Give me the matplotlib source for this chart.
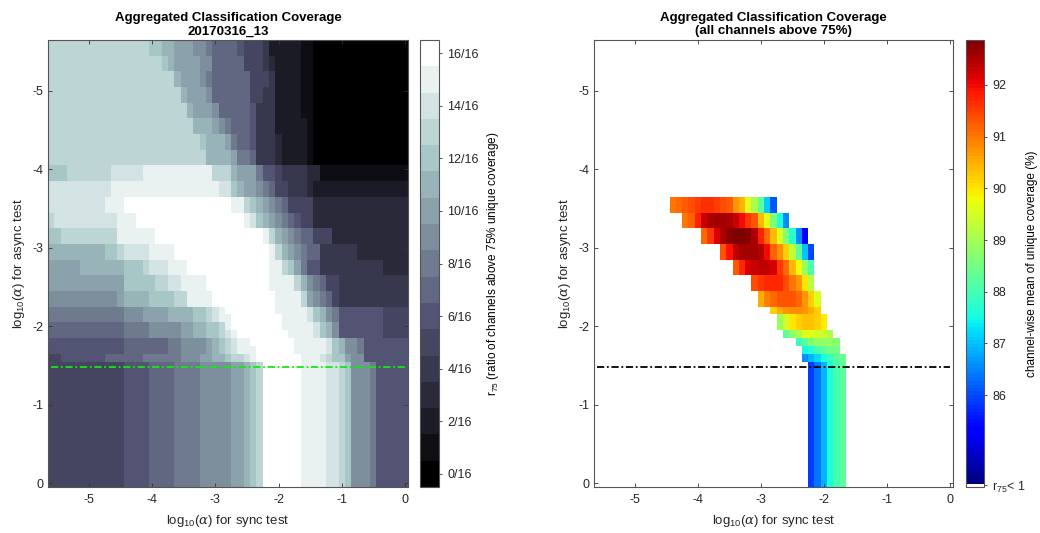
import numpy as np
import matplotlib.pyplot as plt
from matplotlib.colors import ListedColormap

plt.rcParams['font.family'] = ['Liberation Sans', 'DejaVu Sans']
plt.rcParams['axes.unicode_minus'] = False
plt.rcParams['mathtext.fontset'] = 'custom'
plt.rcParams['mathtext.rm'] = 'Liberation Sans'
plt.rcParams['mathtext.it'] = 'DejaVu Serif:italic'

# log10(alpha) grid used for both the sync and the async test
grid = np.round(np.arange(-5.6, 0.05, 0.1), 1)

# number of channels (of 16) above 75% unique coverage
# (first async, last async, "level:count ..." along the sync axis)
r75_rows = [
    (-5.6, -5.5, "13:16 12:2 11:2 10:3 9:2 8:1 7:4 6:1 5:3 4:1 2:5 1:2 0:15"),
    (-5.4, -5.3, "13:18 12:1 11:1 10:4 9:2 7:5 5:3 4:1 3:1 2:4 1:2 0:15"),
    (-5.2, -5.1, "13:20 11:1 10:3 9:1 8:1 7:6 5:3 4:1 2:4 1:2 0:15"),
    (-5.0, -4.9, "13:21 11:1 10:3 9:1 7:6 5:2 4:2 2:4 1:2 0:15"),
    (-4.8, -4.7, "13:22 11:1 10:3 9:1 7:5 6:1 4:3 2:4 1:2 0:15"),
    (-4.6, -4.5, "13:23 11:3 10:1 9:1 8:1 7:3 6:1 4:3 2:5 1:1 0:15"),
    (-4.4, -4.3, "13:24 12:1 11:3 10:1 8:1 7:2 6:1 4:3 3:1 2:4 1:1 0:15"),
    (-4.2, -4.1, "13:25 11:4 10:1 8:2 7:1 4:3 3:1 2:4 1:1 0:15"),
    (-4.0, -3.9, "12:3 13:7 14:5 15:11 13:3 11:1 10:3 8:1 6:2 5:1 4:4 3:2 1:14"),
    (-3.8, -3.7, "14:10 15:17 14:2 12:1 11:1 10:2 9:1 8:1 7:1 5:2 4:3 3:1 2:15"),
    (-3.6, -3.5, "14:9 15:3 16:17 15:2 13:1 12:1 11:1 10:1 9:1 8:1 7:1 5:4 3:15"),
    (-3.4, -3.3, "13:1 14:10 15:3 16:17 15:1 14:1 12:1 11:1 10:1 9:1 8:1 7:1 6:1 5:2 3:15"),
    (-3.2, -3.1, "12:2 13:9 15:6 16:17 15:1 13:1 11:1 10:1 9:1 8:1 7:2 5:3 3:12"),
    (-3.0, -2.9, "11:9 12:2 13:1 14:4 15:4 16:15 15:1 13:1 11:1 10:1 9:1 8:1 7:2 4:6 3:8"),
    (-2.8, -2.7, "10:5 11:7 12:3 13:1 14:3 15:3 16:13 15:2 13:1 12:1 10:1 8:1 6:2 4:10 3:4"),
    (-2.6, -2.5, "10:12 12:5 13:2 14:2 15:4 16:10 15:4 13:1 11:1 9:1 8:1 7:1 5:2 4:11"),
    (-2.4, -2.3, "9:11 10:1 11:4 12:4 13:2 15:4 16:10 15:4 13:1 10:1 9:1 8:1 7:1 5:1 4:11"),
    (-2.2, -2.2, "8:12 9:3 10:4 11:4 12:2 13:1 14:1 15:1 16:8 15:5 14:1 12:1 11:1 9:1 8:1 6:7 5:4"),
    (-2.1, -2.1, "8:12 9:3 10:4 11:4 12:2 13:1 14:1 15:2 16:8 15:4 14:1 12:1 11:1 9:1 8:1 6:7 5:4"),
    (-2.0, -2.0, "7:12 8:4 9:5 10:2 11:2 12:2 13:1 15:1 16:8 15:5 14:1 12:1 11:1 9:1 6:7 5:4"),
    (-1.9, -1.9, "7:12 8:4 9:5 10:2 11:2 12:2 13:1 14:1 15:1 16:8 15:4 14:1 12:1 11:1 9:1 6:7 5:4"),
    (-1.8, -1.8, "6:12 7:7 8:2 9:4 10:1 11:1 12:1 13:1 14:1 15:2 16:7 15:5 14:1 12:1 11:1 9:2 8:1 6:7"),
    (-1.7, -1.7, "6:12 7:7 8:2 9:4 10:1 11:1 12:1 13:1 14:1 15:3 16:6 15:5 14:1 12:1 11:1 9:2 8:1 6:7"),
    (-1.6, -1.6, "5:2 6:7 7:6 8:6 9:3 10:2 11:2 12:1 13:2 14:1 15:1 16:7 15:3 14:1 13:1 12:2 10:1 9:2 6:7"),
    (-1.5, 0.0, "5:12 6:4 7:4 8:4 9:5 10:2 11:1 12:1 13:1 16:6 15:4 14:2 13:1 12:1 9:3 8:1 6:5"),
]

# channel-wise mean unique coverage (%) where all 16 channels pass
# (first async, last async, first sync, values along the sync axis)
cov_rows = [
    (-3.6, -3.5, -4.4, [91.0, 91.1, 91.25, 91.4, 91.5, 91.65, 91.65, 91.5, 91.4,
                        91.25, 90.7, 90.45, 89.7, 89.1, 88.3, 87.1, 86.1]),
    (-3.4, -3.3, -4.2, [91.0, 91.2, 91.8, 92.3, 92.5, 92.6, 92.6, 92.5, 92.3,
                        92.0, 91.6, 91.3, 90.4, 89.7, 88.6, 87.6, 86.6]),
    (-3.2, -3.1, -3.9, [91.1, 91.6, 92.2, 92.5, 92.75, 92.85, 92.85, 92.75, 92.5,
                        91.8, 91.1, 90.4, 89.6, 88.7, 87.7, 86.6, 85.4]),
    (-3.0, -2.9, -3.6, [91.3, 91.9, 92.4, 92.6, 92.6, 92.6, 92.45, 92.0, 91.2,
                        90.8, 90.2, 89.3, 88.3, 87.0, 86.0]),
    (-2.8, -2.7, -3.4, [91.25, 91.7, 92.2, 92.3, 92.4, 92.4, 92.2, 91.6, 91.1,
                        90.4, 89.8, 88.9, 88.0]),
    (-2.6, -2.5, -3.1, [91.4, 91.6, 91.7, 91.7, 91.7, 91.4, 91.0, 90.7, 90.0, 89.2]),
    (-2.4, -2.3, -3.0, [90.5, 90.9, 91.1, 91.3, 91.3, 91.3, 91.1, 90.7, 90.2, 89.6]),
    (-2.2, -2.2, -2.8, [90.2, 90.5, 90.7, 90.8, 90.8, 90.7, 90.5, 90.2]),
    (-2.1, -2.0, -2.7, [88.9, 89.5, 90.0, 90.2, 90.3, 90.3, 90.2, 89.9]),
    (-1.9, -1.9, -2.6, [88.3, 88.8, 89.1, 89.6, 89.6, 89.5, 89.4, 89.1]),
    (-1.8, -1.8, -2.4, [87.9, 88.3, 88.6, 88.8, 88.8, 88.9, 88.7]),
    (-1.7, -1.7, -2.3, [87.5, 87.7, 88.0, 88.3, 88.5, 88.5]),
    (-1.6, -1.6, -2.3, [86.6, 86.9, 87.2, 87.6, 87.9, 88.2, 88.4]),
    (-1.5, 0.0, -2.2, [85.9, 86.4, 86.9, 87.6, 88.0, 88.3]),
]

async_threshold = -1.48
cov_ticks = [86, 87, 88, 89, 90, 91, 92]
cov_lim = (84.29, 92.87)


def row_mask(a0, a1):
    return (grid >= a0 - 1e-6) & (grid <= a1 + 1e-6)


n = len(grid)
r75 = np.zeros((n, n))
for a0, a1, runs in r75_rows:
    vals = []
    for tok in runs.split():
        lev, cnt = tok.split(':')
        vals += [int(lev)] * int(cnt)
    r75[row_mask(a0, a1), :] = vals

cov = np.full((n, n), np.nan)
for a0, a1, s0, vals in cov_rows:
    c0 = int(np.argmin(np.abs(grid - s0)))
    cov[row_mask(a0, a1), c0:c0 + len(vals)] = vals

ext = [grid[0] - 0.05, grid[-1] + 0.05, grid[-1] + 0.05, grid[0] - 0.05]

fig = plt.figure(figsize=(10.4, 5.33), dpi=100)
W, H = 1040.0, 533.0
ax1 = fig.add_axes([48 / W, 1 - 487 / H, 360 / W, 447 / H])
cax1 = fig.add_axes([420 / W, 1 - 487 / H, 19 / W, 447 / H])
ax2 = fig.add_axes([594 / W, 1 - 487 / H, 359 / W, 447 / H])
cax2 = fig.add_axes([966 / W, 1 - 487 / H, 18 / W, 447 / H])

fs = 9
edge = '#555555'
dashdot = (0, (4, 1.5, 1, 1.5))

# left: r75 map
bone17 = plt.get_cmap('bone', 17)
im1 = ax1.imshow(r75, cmap=bone17, vmin=-0.5, vmax=16.5, extent=ext,
                 aspect='auto', interpolation='nearest')
ax1.plot([grid[0], grid[-1]], [async_threshold] * 2, color='#10ea10',
         lw=1.3, ls=dashdot)
ax1.set_title('Aggregated Classification Coverage\n20170316_13',
              fontweight='bold', fontsize=fs + 0.5, pad=4)

cb1 = fig.colorbar(im1, cax=cax1, ticks=range(0, 17, 2))
cb1.ax.set_yticklabels(['%d/16' % t for t in range(0, 17, 2)])
cb1.set_label('r$_{75}$ (ratio of channels above 75% unique coverage)',
              fontsize=fs - 0.5)
cb1.ax.yaxis.set_label_coords(3.4, 0.5)

# right: mean coverage where r75 == 1
N = 130
jet = plt.get_cmap('jet', N)
cmap2 = ListedColormap(np.vstack([[1, 1, 1, 1], jet(np.arange(N))]))
cmap2.set_bad('white')
vmin2 = cov_lim[0] - (cov_lim[1] - cov_lim[0]) / N
im2 = ax2.imshow(np.ma.masked_invalid(cov), cmap=cmap2, vmin=vmin2,
                 vmax=cov_lim[1], extent=ext, aspect='auto',
                 interpolation='nearest')
ax2.plot([grid[0], grid[-1]], [async_threshold] * 2, color='black',
         lw=1.3, ls=dashdot)
ax2.set_title('Aggregated Classification Coverage\n(all channels above 75%)',
              fontweight='bold', fontsize=fs + 0.5, pad=4)

cb2 = fig.colorbar(im2, cax=cax2)
cb2.set_ticks(cov_ticks + [(vmin2 + cov_lim[0]) / 2])
cb2.ax.set_yticklabels([str(t) for t in cov_ticks] + ['r$_{75}$< 1'])
cb2.set_label('channel-wise mean of unique coverage (%)', fontsize=fs - 0.5)
cb2.ax.yaxis.set_label_coords(3.35, 0.5)

for ax in (ax1, ax2):
    ax.set_xlim(ext[0], ext[1])
    ax.set_ylim(ext[2], ext[3])
    ax.set_xticks([-5, -4, -3, -2, -1, 0])
    ax.set_yticks([-5, -4, -3, -2, -1, 0])
    ax.tick_params(direction='in', top=True, right=True, length=3,
                   width=0.6, color='#333333', labelsize=fs, labelcolor='#262626')
    ax.tick_params(axis='x', pad=5)
    ax.set_xlabel('log$_{10}$($\\alpha$) for sync test', fontsize=fs + 0.5,
                  color='#262626', labelpad=5)
    ax.set_ylabel('log$_{10}$($\\alpha$) for async test', fontsize=fs + 0.5,
                  color='#262626')
    for s in ax.spines.values():
        s.set_color(edge)
        s.set_linewidth(0.8)

for cb in (cb1, cb2):
    cb.outline.set_edgecolor(edge)
    cb.outline.set_linewidth(0.8)
    cb.ax.tick_params(direction='out', length=2.5, width=0.6, color='#333333',
                      labelsize=fs, labelcolor='#262626')

fig.savefig('out.png', dpi=100)
